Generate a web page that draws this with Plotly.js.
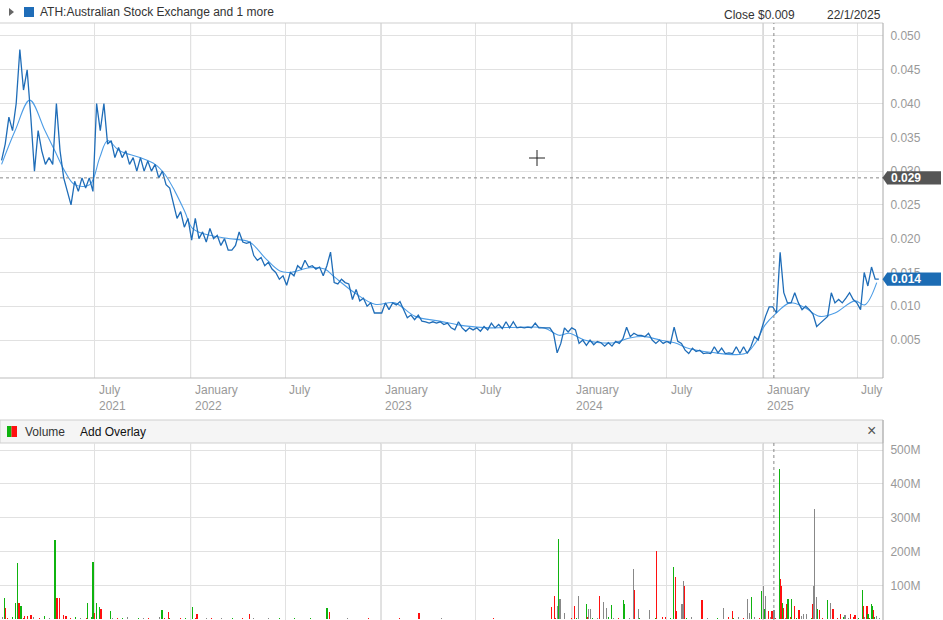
<!DOCTYPE html>
<html><head><meta charset="utf-8">
<script src="https://cdn.plot.ly/plotly-3.0.1.min.js"></script>
<style>html,body{margin:0;padding:0;background:#fff;overflow:hidden}#chart{width:943px;height:620px}</style>
</head><body><div id="chart"></div>
<script>
// ---------------- DATA ----------------
const priceStart = '2021-01-04';           // first weekly close
const priceWeekly = [
 0.0316,0.034,0.038,0.036,0.040,0.048,0.042,0.045,0.038,0.030,
 0.036,0.033,0.031,0.032,0.031,0.040,0.033,0.029,0.027,0.025,
 0.0285,0.027,0.029,0.0275,0.029,0.027,0.040,0.036,0.040,0.034,
 0.0345,0.032,0.0335,0.032,0.033,0.031,0.032,0.030,0.032,0.030,
 0.0315,0.030,0.031,0.029,0.030,0.028,0.0275,0.025,0.023,0.024,
 0.0217,0.023,0.0198,0.023,0.020,0.021,0.0195,0.0215,0.020,0.0205,
 0.019,0.020,0.0183,0.0183,0.019,0.021,0.0195,0.0193,0.0195,0.0175,
 0.0168,0.0172,0.016,0.0165,0.0155,0.015,0.014,0.0145,0.0131,0.015,
 0.0145,0.016,0.0155,0.0168,0.0158,0.016,0.0155,0.0158,0.0145,0.016,
 0.018,0.0135,0.0133,0.014,0.0135,0.0133,0.011,0.0125,0.0108,0.0112,
 0.010,0.0105,0.009,0.009,0.009,0.0105,0.0095,0.0105,0.0102,0.0107,
 0.0095,0.0083,0.0087,0.008,0.0087,0.0078,0.0077,0.0075,0.0077,0.0075,
 0.0077,0.0073,0.0075,0.0068,0.0065,0.0077,0.0068,0.0063,0.0068,0.0065,
 0.0068,0.0063,0.007,0.0065,0.0075,0.0068,0.0073,0.0067,0.0077,0.0068,
 0.0077,0.0068,0.0069,0.0068,0.0069,0.0068,0.0075,0.0068,0.0068,0.0068,
 0.0068,0.006,0.0031,0.0045,0.0068,0.0062,0.0068,0.0065,0.0045,0.005,
 0.0042,0.005,0.0043,0.0048,0.0046,0.0041,0.0046,0.0041,0.0048,0.0045,
 0.0052,0.0069,0.0055,0.006,0.0057,0.0057,0.0055,0.006,0.005,0.0045,
 0.005,0.0045,0.0048,0.0045,0.0069,0.0048,0.0045,0.0035,0.003,0.0038,
 0.0033,0.0035,0.003,0.0031,0.003,0.004,0.0031,0.0038,0.003,0.0031,
 0.003,0.004,0.003,0.004,0.003,0.004,0.0055,0.005,0.0068,0.0085,
 0.0099,0.0099,0.009,0.018,0.012,0.0105,0.0105,0.012,0.0105,0.0095,
 0.010,0.0095,0.0088,0.007,0.0075,0.008,0.0085,0.012,0.0105,0.011,
 0.0105,0.0112,0.012,0.011,0.0105,0.0095,0.015,0.013,0.0158,0.014,
 0.014
];

const maDates = ['2021-01-04','2021-01-30','2021-02-27','2021-03-28','2021-04-16','2021-05-05','2021-05-24','2021-06-22','2021-07-11','2021-07-26',
 '2021-08-18','2021-09-26','2021-10-25','2021-11-13','2021-12-02','2021-12-21','2022-01-05','2022-02-07','2022-03-17','2022-04-24',
 '2022-05-23','2022-06-21','2022-07-10','2022-08-17','2022-09-15','2022-10-04','2022-11-11','2022-12-20','2023-01-27','2023-03-07',
 '2023-04-23','2023-06-10','2023-07-28','2023-09-23','2023-11-09','2023-12-08','2023-12-27','2024-01-25','2024-02-23','2024-03-23',
 '2024-04-21','2024-05-20','2024-06-18','2024-07-16','2024-08-14','2024-09-22','2024-11-28','2024-12-17','2025-01-05','2025-01-24',
 '2025-02-22','2025-03-22','2025-04-20','2025-05-19','2025-06-26','2025-07-15','2025-08-07'];
const maValues = [0.031,0.036,0.0405,0.036,0.033,0.030,0.028,0.028,0.032,0.0345,
 0.033,0.032,0.031,0.0295,0.027,0.024,0.0215,0.0205,0.020,0.0195,
 0.0172,0.0152,0.015,0.0157,0.0155,0.0143,0.012,0.0103,0.0105,0.0085,
 0.0078,0.0071,0.0068,0.0069,0.0068,0.0057,0.006,0.005,0.0046,0.0046,
 0.0053,0.0055,0.005,0.0046,0.0037,0.0032,0.003,0.0045,0.0072,0.0088,
 0.0105,0.0098,0.0085,0.009,0.0108,0.0102,0.0135];

// volume spikes (millions); g = up day, r = down day, n = unchanged
const volDates = ['2021-01-10','2021-01-12','2021-01-31','2021-02-04','2021-02-06','2021-02-10','2021-02-16','2021-02-22','2021-03-01',
 '2021-04-16','2021-04-20','2021-04-24','2021-05-03','2021-05-07','2021-06-18','2021-06-28','2021-06-30','2021-07-05','2021-07-11','2021-07-13',
 '2021-08-01','2021-11-07','2021-11-20','2022-01-05','2022-01-13','2022-04-24','2022-09-19','2022-09-23','2023-03-14',
 '2023-11-23','2023-11-29','2023-12-05','2023-12-07','2023-12-09','2023-12-18','2024-01-06','2024-01-14','2024-01-29','2024-02-02','2024-02-05',
 '2024-02-23','2024-03-02','2024-03-07','2024-03-17','2024-04-09','2024-04-11','2024-04-28','2024-04-30','2024-05-08','2024-05-29',
 '2024-06-11','2024-06-22','2024-07-14','2024-07-18','2024-07-20','2024-07-30','2024-08-01','2024-08-03','2024-09-06','2024-10-18',
 '2024-11-04','2024-12-02','2024-12-06','2024-12-10','2024-12-29','2025-01-02','2025-01-04','2025-01-06','2025-01-12','2025-01-18','2025-01-22',
 '2025-02-01','2025-02-03','2025-02-05','2025-02-07','2025-02-09','2025-02-16','2025-02-18','2025-02-24','2025-03-03','2025-03-11',
 '2025-03-19','2025-03-25','2025-04-05','2025-04-07','2025-04-09','2025-04-13','2025-04-15','2025-04-19','2025-05-04','2025-05-10',
 '2025-05-15','2025-05-29','2025-06-07','2025-06-17','2025-06-26','2025-07-11','2025-07-13','2025-07-19','2025-07-21','2025-07-27',
 '2025-07-29','2025-07-31','2025-08-06'];
const volValues = [62,35,50,168,50,41,10,10,12,
 235,62,62,12,10,50,170,20,50,38,30,
 25,28,23,38,17,15,33,23,20,
 37,68,40,238,60,20,40,68,45,30,30,
 70,52,35,42,58,45,148,88,30,28,
 203,8,155,125,25,45,115,100,58,35,
 25,60,20,65,85,100,30,70,25,25,28,
 443,120,100,50,35,45,60,60,40,28,
 15,15,45,100,327,65,30,28,58,50,
 30,15,12,15,12,88,40,40,15,45,
 40,28,10];
const volDir = ['g','r','g','g','r','g','r','r','r',
 'g','r','r','r','r','g','g','r','g','g','r',
 'g','g','r','g','r','r','g','r','r',
 'r','r','n','g','n','n','r','n','g','n','n',
 'r','n','n','g','g','g','n','r','n','n',
 'r','r','g','r','r','n','n','r','r','n',
 'r','n','n','g','g','n','g','n','r','r','n',
 'g','r','r','g','r','r','g','g','r','r',
 'n','n','r','n','n','n','g','r','g','n',
 'r','r','n','r','r','g','r','r','g','g',
 'g','r','n'];
// background daily volume, one value every 10 days (millions)
const volSmallStart = '2021-01-06';
const volSmall = [6,3,8,4,5,2,7,3,9,4,3,6,2,5,8,3,4,6,3,7,2,5,4,3,6,2,4,5,3,2,6,3,4,2,5,3,2,
 4,2,3,5,2,3,1,4,2,3,2,5,1,2,3,2,4,1,2,3,1,2,4,2,1,3,2,1,2,3,1,2,1,3,2,1,
 1,2,1,3,1,1,2,1,2,1,1,3,1,2,1,1,2,1,1,2,1,3,1,1,2,1,1,2,1,2,1,1,2,3,2,1,
 3,5,2,6,3,4,2,8,3,5,2,4,6,3,2,5,3,2,7,3,2,4,3,6,2,3,5,2,4,3,8,4,6,5,3,7,4,
 6,8,5,9,4,7,5,10,6,4,8,5,3,7,4,6,5,8,4,6,3,7,5];

const priceTicks = [0.005,0.010,0.015,0.020,0.025,0.030,0.035,0.040,0.045,0.050];
const volTicks = [100,200,300,400,500];
const volTickText = ['100M','200M','300M','400M','500M'];
const xLabelDates = ['2021-07-01','2022-01-01','2022-07-01','2023-01-01','2023-07-01','2024-01-01','2024-07-01','2025-01-01','2025-07-01'];
const xLabelText = ['July<br>2021','January<br>2022','July','January<br>2023','July','January<br>2024','July','January<br>2025','July'];
const yearStarts = ['2022-01-01','2023-01-01','2024-01-01','2025-01-01'];
const headerTitle = 'ATH:Australian Stock Exchange and 1 more';
const closeText = 'Close $0.009';
const crossDateText = '22/1/2025';
const crossDate = '2025-01-22';
const crossPrice = 0.029;
const lastPrice = 0.014;

// ---------------- BUILD ----------------
function addDays(s, n){const d=new Date(s+'T00:00:00Z');d.setUTCDate(d.getUTCDate()+n);return d.toISOString().slice(0,10);}
const priceDates = priceWeekly.map((_,i)=>addDays(priceStart,7*i));
const smallDates = volSmall.map((_,i)=>addDays(volSmallStart,10*i));
const dirColor = {g:'#0fb30f', r:'#ff1010', n:'#888888'};
const smallCols = ['#888888','#ff1010','#0fb30f'];
const DAY = 86400000;

const H = 620, PR = 883;
const pyP = py => (H-py)/H;      // pixel y -> paper y
const pxP = px => px/PR;         // pixel x -> paper x
const priceDom = [pyP(378), pyP(23)];
const volDom = [0, pyP(443)];
const xRange = ['2021-01-01','2025-08-19'];

const traces = [
 {x: smallDates, y: volSmall, type:'bar', xaxis:'x2', yaxis:'y2', width: 1.9*DAY,
  marker:{color: volSmall.map((_,i)=>smallCols[i%3]), line:{width:0}}, hoverinfo:'skip'},
 {x: volDates, y: volValues, type:'bar', xaxis:'x2', yaxis:'y2', width: 2.3*DAY,
  marker:{color: volDir.map(d=>dirColor[d]), line:{width:0}}},
 {x: maDates, y: maValues, type:'scatter', mode:'lines', xaxis:'x', yaxis:'y',
  line:{color:'#4d9de6', width:1.1, shape:'spline', smoothing:1}},
 {x: priceDates, y: priceWeekly, type:'scatter', mode:'lines', xaxis:'x', yaxis:'y',
  line:{color:'#1f6db8', width:1.3}}
];

const gridC = '#e1e1e1';
const axX = {type:'date', range:xRange, showticklabels:false, tickmode:'linear', tick0:'2021-01-01', dtick:'M6',
  showgrid:true, gridcolor:gridC, gridwidth:1, zeroline:false, showline:false, ticks:'', fixedrange:true};

const shapes = [];
// darker January gridlines
yearStarts.forEach(d=>{
  shapes.push({type:'line', xref:'x', yref:'paper', x0:d, x1:d, y0:priceDom[0], y1:priceDom[1], line:{color:'#a0a0a0', width:1}, layer:'below'});
  shapes.push({type:'line', xref:'x', yref:'paper', x0:d, x1:d, y0:volDom[0], y1:volDom[1], line:{color:'#a0a0a0', width:1}, layer:'below'});
});
// panel borders
shapes.push({type:'line', xref:'paper', yref:'paper', x0:0, x1:1, y0:priceDom[1], y1:priceDom[1], line:{color:'#cfcfcf', width:1}});
shapes.push({type:'line', xref:'paper', yref:'paper', x0:0, x1:1, y0:priceDom[0], y1:priceDom[0], line:{color:'#bdbdbd', width:1}});
shapes.push({type:'line', xref:'paper', yref:'paper', x0:1, x1:1, y0:priceDom[0], y1:priceDom[1], line:{color:'#a8a8a8', width:1}});
shapes.push({type:'line', xref:'paper', yref:'paper', x0:1, x1:1, y0:volDom[0], y1:pyP(420), line:{color:'#a8a8a8', width:1}});
// volume header bar
shapes.push({type:'rect', xref:'paper', yref:'paper', x0:0, x1:1, y0:volDom[1], y1:pyP(420), fillcolor:'#f5f5f5', line:{color:'#cfcfcf', width:1}, layer:'below'});
shapes.push({type:'rect', xref:'paper', yref:'paper', x0:pxP(7), x1:pxP(11.5), y0:pyP(437), y1:pyP(426), fillcolor:'#0fb30f', line:{width:0}});
shapes.push({type:'rect', xref:'paper', yref:'paper', x0:pxP(11.5), x1:pxP(17), y0:pyP(437), y1:pyP(426), fillcolor:'#ff1010', line:{width:0}});
// legend square in header
shapes.push({type:'rect', xref:'paper', yref:'paper', x0:pxP(24), x1:pxP(34), y0:pyP(17), y1:pyP(7), fillcolor:'#1f6db8', line:{width:0}});
shapes.push({type:'path', xref:'paper', yref:'paper', path:`M${pxP(9)},${pyP(8)} L${pxP(14)},${pyP(12)} L${pxP(9)},${pyP(16)} Z`, fillcolor:'#666', line:{width:0}});
// crosshair lines
shapes.push({type:'line', xref:'x', yref:'paper', x0:crossDate, x1:crossDate, y0:priceDom[0], y1:priceDom[1], line:{color:'#888', width:1, dash:'dot'}});
shapes.push({type:'line', xref:'x', yref:'paper', x0:crossDate, x1:crossDate, y0:volDom[0], y1:volDom[1], line:{color:'#888', width:1, dash:'dot'}});
shapes.push({type:'line', xref:'paper', yref:'y', x0:0, x1:1, y0:crossPrice, y1:crossPrice, line:{color:'#888', width:1, dash:'dot'}});
// price badges
function badge(val, col){
  const h = 0.00098;
  shapes.push({type:'rect', xref:'paper', yref:'y', x0:pxP(887), x1:pxP(941), y0:val-h, y1:val+h, fillcolor:col, line:{width:0}});
  shapes.push({type:'path', xref:'paper', yref:'y', path:`M${pxP(882.5)},${val} L${pxP(887.2)},${val-h} L${pxP(887.2)},${val+h} Z`, fillcolor:col, line:{width:0}});
}
badge(crossPrice, '#555555');
badge(lastPrice, '#1c6cb4');
// mouse cursor cross
shapes.push({type:'line', xref:'paper', yref:'paper', x0:pxP(529), x1:pxP(545), y0:pyP(158), y1:pyP(158), line:{color:'#222', width:1}});
shapes.push({type:'line', xref:'paper', yref:'paper', x0:pxP(537), x1:pxP(537), y0:pyP(150), y1:pyP(166), line:{color:'#222', width:1}});

const F = 'Liberation Sans, Arial, sans-serif';
const annotations = [
 {xref:'paper', yref:'paper', x:pxP(38), y:pyP(12), xanchor:'left', yanchor:'middle', text:headerTitle, showarrow:false, font:{family:F, size:12, color:'#333'}},
 {xref:'paper', yref:'paper', x:pxP(722), y:pyP(15), xanchor:'left', yanchor:'middle', text:closeText, showarrow:false, font:{family:F, size:12, color:'#333'}},
 {xref:'paper', yref:'paper', x:pxP(825), y:pyP(15), xanchor:'left', yanchor:'middle', text:crossDateText, showarrow:false, font:{family:F, size:12, color:'#333'}},
 {xref:'paper', yref:'paper', x:pxP(23), y:pyP(431.5), xanchor:'left', yanchor:'middle', text:'Volume', showarrow:false, font:{family:F, size:12, color:'#333'}},
 {xref:'paper', yref:'paper', x:pxP(78), y:pyP(431.5), xanchor:'left', yanchor:'middle', text:'Add Overlay', showarrow:false, font:{family:F, size:12, color:'#111'}},
 {xref:'paper', yref:'paper', x:pxP(871), y:pyP(430.5), xanchor:'center', yanchor:'middle', text:'×', showarrow:false, font:{family:F, size:16, color:'#555'}},
 {xref:'paper', yref:'y', x:pxP(889), y:crossPrice, xanchor:'left', yanchor:'middle', text:'<b>'+crossPrice.toFixed(3)+'</b>', showarrow:false, font:{family:F, size:12, color:'#fff'}},
 {xref:'paper', yref:'y', x:pxP(889), y:lastPrice, xanchor:'left', yanchor:'middle', text:'<b>'+lastPrice.toFixed(3)+'</b>', showarrow:false, font:{family:F, size:12, color:'#fff'}}
];
xLabelDates.forEach((d,i)=>{
  annotations.push({xref:'x', yref:'paper', x:d, y:pyP(381), xanchor:'left', yanchor:'top', xshift:2, align:'left',
    text:xLabelText[i], showarrow:false, font:{family:F, size:12, color:'#999'}});
});

const layout = {
  width:943, height:620, margin:{l:0, r:60, t:0, b:0},
  paper_bgcolor:'#fff', plot_bgcolor:'#fff', showlegend:false, bargap:0,
  font:{family:F, size:12, color:'#999'},
  xaxis: Object.assign({}, axX, {domain:[0,1], anchor:'y'}),
  xaxis2: Object.assign({}, axX, {domain:[0,1], anchor:'y2', matches:'x'}),
  yaxis: {domain:priceDom, range:[-0.00062, 0.05192], side:'right', tickmode:'array', tickvals:priceTicks,
    ticktext:priceTicks.map(v=>v.toFixed(3)), showgrid:true, gridcolor:gridC, zeroline:false, showline:false,
    ticks:'outside', ticklen:4, tickcolor:'rgba(0,0,0,0)', tickfont:{family:F, size:12, color:'#999'}, fixedrange:true},
  yaxis2: {domain:volDom, range:[-1.5, 521], side:'right', tickmode:'array', tickvals:volTicks, ticktext:volTickText,
    showgrid:true, gridcolor:gridC, zeroline:false, showline:false,
    ticks:'outside', ticklen:4, tickcolor:'rgba(0,0,0,0)', tickfont:{family:F, size:12, color:'#999'}, fixedrange:true},
  shapes: shapes, annotations: annotations
};
Plotly.newPlot('chart', traces, layout, {displayModeBar:false, staticPlot:true});
</script>
</body></html>
